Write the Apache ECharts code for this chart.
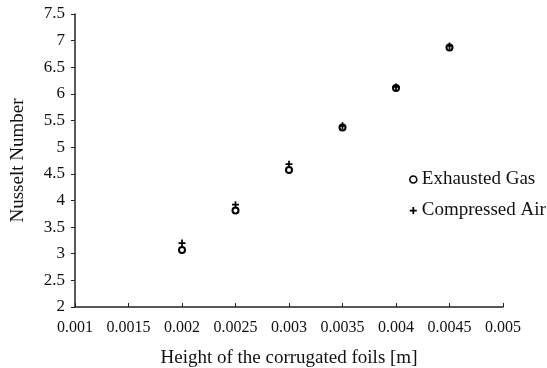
<!DOCTYPE html>
<html><head><meta charset="utf-8">
<script src="https://cdn.jsdelivr.net/npm/echarts@6/dist/echarts.min.js"></script>
<style>html,body{margin:0;padding:0;background:#fff;}#c{width:547px;height:368px;}</style>
</head><body><div id="c"></div>
<script>
const heights = [0.002, 0.0025, 0.003, 0.0035, 0.004, 0.0045];
const exhaustedGas = [3.07, 3.81, 4.57, 5.37, 6.11, 6.87];
const compressedAir = [3.20, 3.92, 4.68, 5.40, 6.13, 6.90];
const xTicks = [0.001, 0.0015, 0.002, 0.0025, 0.003, 0.0035, 0.004, 0.0045, 0.005];
const yTicks = [2, 2.5, 3, 3.5, 4, 4.5, 5, 5.5, 6, 6.5, 7, 7.5];

const font = '"Liberation Serif", "Times New Roman", serif';
const chart = echarts.init(document.getElementById('c'));
const plusPath = 'path://M3,0 L5,0 L5,3 L8,3 L8,5 L5,5 L5,8 L3,8 L3,5 L0,5 L0,3 L3,3 Z';
chart.setOption({
  animation: false,
  grid: {left: 75, right: 44, top: 14, bottom: 61, containLabel: false, outerBoundsMode: 'none'},
  legend: {
    orient: 'vertical', left: 404, top: 165, itemGap: 12,
    itemWidth: 7, itemHeight: 7,
    textStyle: {fontFamily: font, fontSize: 19, color: '#111'},
    data: [
      {name: 'Exhausted Gas', icon: 'circle', itemStyle: {color: '#fff', borderColor: '#000', borderWidth: 1.6}},
      {name: 'Compressed Air', icon: plusPath, itemStyle: {color: '#000'}}
    ]
  },
  xAxis: {
    type: 'value', min: 0.001, max: 0.005, interval: 0.0005,
    name: 'Height of the corrugated foils [m]', nameLocation: 'middle', nameGap: 42,
    nameTextStyle: {fontFamily: font, fontSize: 19, color: '#111'},
    axisLine: {show: true, lineStyle: {color: '#222', width: 1.5}},
    axisTick: {show: true, inside: true, length: 4, lineStyle: {color: '#222'}},
    axisLabel: {fontFamily: font, fontSize: 16, color: '#111', margin: 13,
      formatter: v => xTicks.find(t => Math.abs(t - v) < 1e-9)?.toString() ?? ''},
    splitLine: {show: false}
  },
  yAxis: {
    type: 'value', min: 2, max: 7.5, interval: 0.5,
    name: 'Nusselt Number', nameLocation: 'middle', nameGap: 47,
    nameTextStyle: {fontFamily: font, fontSize: 19, color: '#111'},
    axisLine: {show: true, lineStyle: {color: '#222', width: 1.5}},
    axisTick: {show: true, inside: false, length: 4, lineStyle: {color: '#222'}},
    axisLabel: {fontFamily: font, fontSize: 17, color: '#111', margin: 10,
      formatter: v => yTicks.find(t => Math.abs(t - v) < 1e-9)?.toString() ?? ''},
    splitLine: {show: false}
  },
  series: [
    {name: 'Exhausted Gas', type: 'scatter', symbol: 'circle', symbolSize: 6,
     itemStyle: {color: '#fff', borderColor: '#000', borderWidth: 2, opacity: 1},
     data: heights.map((h, i) => [h, exhaustedGas[i]])},
    {name: 'Compressed Air', type: 'scatter', symbol: plusPath, symbolSize: 7,
     itemStyle: {color: '#000', opacity: 1},
     data: heights.map((h, i) => [h, compressedAir[i]])}
  ]
});
</script></body></html>
